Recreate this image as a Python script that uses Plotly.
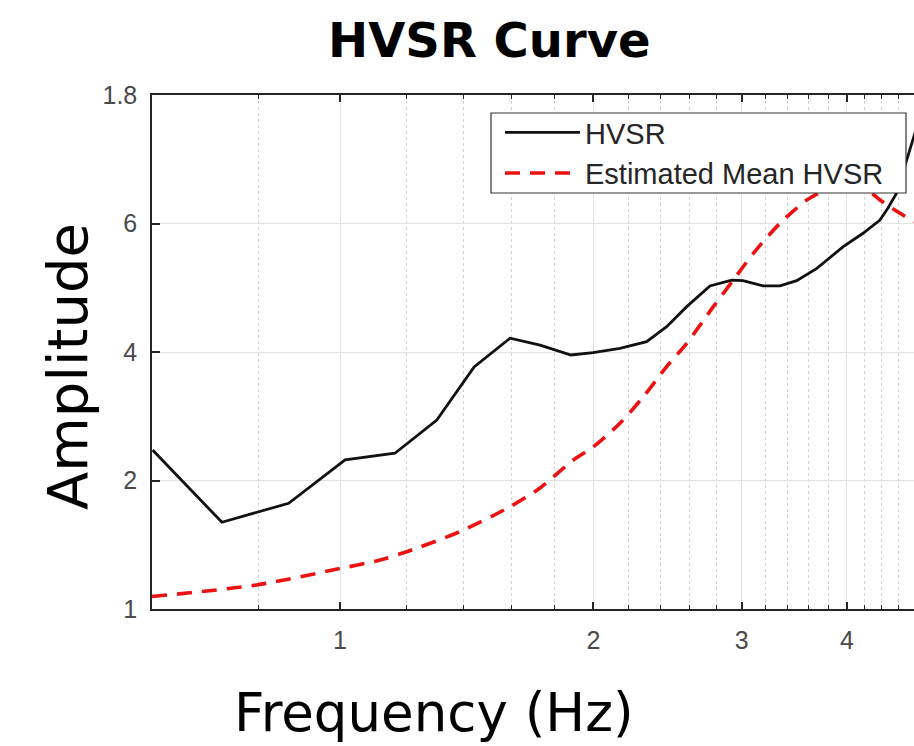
import plotly.graph_objects as go

# ---- data ----
# Frequency values (Hz) for the measured HVSR curve
hvsr_freq = [0.599, 0.724, 0.869, 1.014, 1.162, 1.303, 1.443, 1.592, 1.728, 1.881,
             1.998, 2.150, 2.313, 2.443, 2.581, 2.750, 2.919, 3.010, 3.180, 3.331,
             3.486, 3.684, 3.960, 4.180, 4.378, 4.475, 4.583, 4.688, 4.806, 4.95]
# Amplitude, expressed on the chart's evenly spaced amplitude scale
# (tick positions 0..4 are labelled "1", "2", "4", "6", "1.8" in the original)
hvsr_amp = [1.237, 0.675, 0.823, 1.160, 1.212, 1.471, 1.883, 2.107, 2.054, 1.977,
            1.995, 2.029, 2.080, 2.197, 2.353, 2.514, 2.560, 2.555, 2.514, 2.514,
            2.555, 2.651, 2.820, 2.924, 3.027, 3.121, 3.237, 3.455, 3.689, 3.96]

mean_freq = [0.598, 0.796, 1.000, 1.116, 1.200, 1.388, 1.592, 1.728, 1.893, 2.000,
             2.150, 2.292, 2.443, 2.581, 2.776, 2.932, 3.097, 3.331, 3.584, 3.767,
             3.980, 4.203, 4.378, 4.625, 4.806]
mean_amp = [0.097, 0.187, 0.315, 0.381, 0.446, 0.602, 0.796, 0.942, 1.160, 1.263,
            1.445, 1.652, 1.886, 2.068, 2.353, 2.560, 2.768, 3.002, 3.183, 3.261,
            3.323, 3.276, 3.183, 3.079, 3.014]

x_tick_vals = [1, 2, 3, 4]
x_tick_text = ["1", "2", "3", "4"]
x_minor_vals = [0.8, 1.2, 1.4, 1.6, 1.8, 2.2, 2.4, 2.6, 2.8, 3.2, 3.4, 3.6, 3.8,
                4.2, 4.4, 4.6, 4.8]
y_tick_vals = [0, 1, 2, 3, 4]
y_tick_text = ["1", "2", "4", "6", "1.8"]

series_names = ["HVSR", "Estimated Mean HVSR"]

fig = go.Figure()
fig.add_trace(go.Scatter(
    x=hvsr_freq, y=hvsr_amp, mode="lines", name=series_names[0],
    line=dict(color="#111111", width=2.8)))
fig.add_trace(go.Scatter(
    x=mean_freq, y=mean_amp, mode="lines", name=series_names[1],
    line=dict(color="#ee1111", width=3.6, dash="15px,10px", shape="spline", smoothing=0.8)))

axis_color = "#262626"
tick_font = dict(family="Liberation Sans, Arial, sans-serif", size=25, color="#4a4a4a")

PL, PR, PT, PB = 152, 914, 95, 609
def px(x):
    return (x - PL) / (PR - PL)
def py(y):
    return (PB - y) / (PB - PT)

fig.update_layout(
    width=914, height=746,
    margin=dict(l=PL, r=914 - PR, t=PT, b=746 - PB),
    paper_bgcolor="white", plot_bgcolor="white",
    showlegend=True,
    legend=dict(
        x=px(500), y=py(107), xanchor="left", yanchor="top",
        bgcolor="rgba(0,0,0,0)", borderwidth=0,
        font=dict(family="Liberation Sans, Arial, sans-serif", size=29, color="#262626"),
        itemwidth=75, tracegroupgap=0,
    ),
    shapes=[
        dict(type="rect", xref="paper", yref="paper", layer="above",
             x0=px(491), x1=px(906), y0=py(193), y1=py(113),
             line=dict(color="#333333", width=1.2), fillcolor="white"),
    ],
    xaxis=dict(
        type="log", range=[-0.2233, 0.6817],
        tickmode="array", tickvals=x_tick_vals, ticktext=x_tick_text,
        ticks="inside", ticklen=7, tickwidth=1.5, tickcolor=axis_color,
        showline=True, linecolor=axis_color, linewidth=1.5, mirror="ticks",
        showgrid=True, gridcolor="#e2e2e2", gridwidth=1,
        tickfont=tick_font, ticklabelstandoff=8,
        minor=dict(tickmode="array", tickvals=x_minor_vals, ticks="inside",
                   ticklen=4, tickwidth=1, tickcolor=axis_color,
                   showgrid=True, gridcolor="#d4d4d4", griddash="dot", gridwidth=1),
        zeroline=False,
    ),
    yaxis=dict(
        range=[0, 4], tickmode="array", tickvals=y_tick_vals, ticktext=y_tick_text,
        ticks="inside", ticklen=8, tickwidth=1.5, tickcolor=axis_color,
        showline=True, linecolor=axis_color, linewidth=1.5, mirror=False,
        showgrid=True, gridcolor="#e2e2e2", gridwidth=1,
        tickfont=tick_font, ticklabelstandoff=8,
        zeroline=False,
    ),
    annotations=[
        dict(text="<b>HVSR Curve</b>", xref="paper", yref="paper",
             x=px(489), y=py(40), xanchor="center", yanchor="middle",
             showarrow=False, font=dict(family="DejaVu Sans", size=48, color="#000000")),
        dict(text="Frequency (Hz)", xref="paper", yref="paper",
             x=px(434), y=py(712), xanchor="center", yanchor="middle",
             showarrow=False, font=dict(family="DejaVu Sans", size=53, color="#000000")),
        dict(text="Amplitude", xref="paper", yref="paper", textangle=-90,
             x=px(67), y=py(367), xanchor="center", yanchor="middle",
             showarrow=False, font=dict(family="DejaVu Sans", size=56, color="#000000")),
    ],
)

fig.write_html("out.html", config={"displayModeBar": False})
